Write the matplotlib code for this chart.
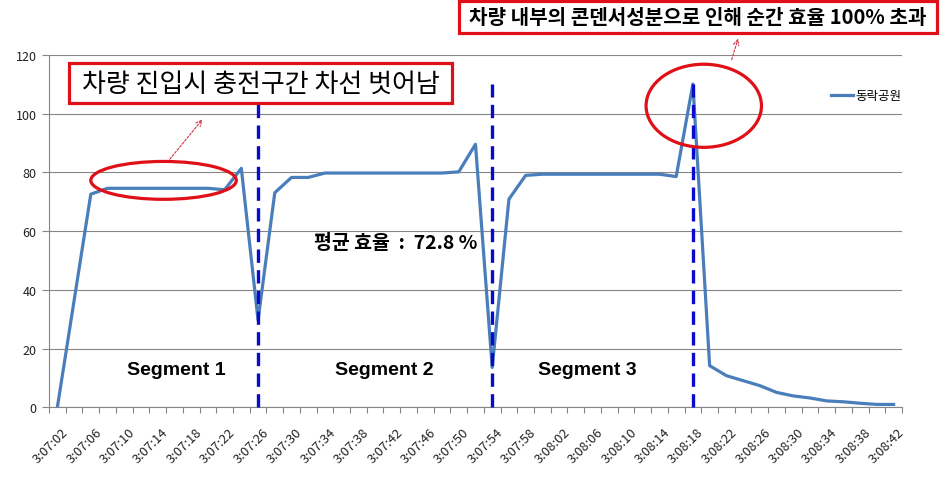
import matplotlib
matplotlib.use('Agg')
import matplotlib.pyplot as plt
import matplotlib.transforms as mtransforms
from matplotlib.patches import Ellipse, Rectangle

plt.rcParams['font.family'] = ['Noto Sans CJK KR', 'DejaVu Sans']

# data (one point every 2 s, 3:07:02 .. 3:08:42)
efficiency = [0, 36.3, 72.6, 74.6, 74.6, 74.6, 74.6, 74.6, 74.6, 74.6,
              74.1, 81.4, 29.7, 73.1, 78.3, 78.3, 79.8, 79.8, 79.8, 79.8,
              79.8, 79.8, 79.8, 79.8, 80.2, 89.6, 13.6, 70.9, 79.0, 79.4,
              79.4, 79.4, 79.4, 79.4, 79.4, 79.4, 79.4, 78.6, 110.1, 14.2,
              10.8, 9.1, 7.4, 5.1, 3.9, 3.2, 2.2, 1.9, 1.4, 1.0, 1.0]
tick_labels = ['3:07:02', '3:07:06', '3:07:10', '3:07:14', '3:07:18', '3:07:22',
               '3:07:26', '3:07:30', '3:07:34', '3:07:38', '3:07:42', '3:07:46',
               '3:07:50', '3:07:54', '3:07:58', '3:08:02', '3:08:06', '3:08:10',
               '3:08:14', '3:08:18', '3:08:22', '3:08:26', '3:08:30', '3:08:34',
               '3:08:38', '3:08:42']
segment_bounds = [12, 26, 38]
segment_names = ['Segment 1', 'Segment 2', 'Segment 3']
segment_centers = [7.1, 19.55, 31.7]
series_name = '동락공원'

x = list(range(len(efficiency)))

fig = plt.figure(figsize=(9.42, 4.81), dpi=100)
ax = fig.add_axes([0.052, 0.151, 0.9055, 0.7326])

ax.plot(x, efficiency, color='#4a7ebb', lw=2.3, label=series_name, zorder=3)

# segment separators
for b in segment_bounds:
    ax.plot([b, b], [0, 110], color='#0a0acc', lw=2.4, dashes=(4, 2.2),
            zorder=4, clip_on=False)

ax.set_xlim(-0.5, len(efficiency) - 0.5)
ax.set_ylim(0, 120)
ax.set_yticks(range(0, 121, 20))
ax.set_xticks([i - 0.5 for i in range(len(efficiency) + 1)])
ax.set_xticklabels([])
ax.set_xticks(range(0, len(efficiency), 2), minor=True)
ax.set_xticklabels(tick_labels, minor=True, rotation=45, ha='right',
                   va='top', rotation_mode='anchor', fontsize=9.3, color='#222222')
ax.tick_params(axis='x', which='minor', length=0, pad=13)
ax.tick_params(axis='x', which='major', length=4, color='#868686', direction='out')
ax.tick_params(axis='y', length=5, color='#868686', labelsize=9,
               labelcolor='#222222', pad=4)
shift = mtransforms.ScaledTranslation(4 / 100, 0, fig.dpi_scale_trans)
for lab in ax.get_xticklabels(minor=True):
    lab.set_transform(lab.get_transform() + shift)
ax.grid(axis='y', color='#868686', lw=0.8)
ax.set_axisbelow(True)
for s in ['top', 'right']:
    ax.spines[s].set_visible(False)
for s in ['left', 'bottom']:
    ax.spines[s].set_color('#868686')
    ax.spines[s].set_linewidth(0.8)

ax.legend(loc='center left', bbox_to_anchor=(825 / 942, 1 - 97 / 481),
          bbox_transform=fig.transFigure, frameon=False, fontsize=9,
          handlelength=1.7, handletextpad=0.2, borderpad=0)

# segment labels and average
for c, name in zip(segment_centers, segment_names):
    ax.text(c, 13, name, ha='center', va='center', fontsize=14,
            fontweight='bold', family='Liberation Sans')
ax.text(20.2, 56.3, '평균 효율  :  72.8 %', ha='center', va='center',
        fontsize=14, fontweight='bold')

# red highlight ellipses
ax.add_patch(Ellipse((6.35, 77.3), 8.7, 12.9, fill=False, ec='#e01018',
                     lw=2.3, zorder=5))
ax.add_patch(Ellipse((38.65, 102.7), 6.9, 28.3, fill=False, ec='#e01018',
                     lw=2.3, zorder=5, clip_on=False))

# dashed arrows to the notes
arrow = dict(arrowstyle='->', color='#d03040', lw=0.8, linestyle=(0, (2, 1.5)))
ax.annotate('', xy=(8.78, 98.8), xytext=(6.62, 83.8), arrowprops=arrow,
            annotation_clip=False)
ax.annotate('', xy=(40.75, 126.5), xytext=(40.27, 117.5), arrowprops=arrow,
            annotation_clip=False)

# note boxes
fig.patches.append(Rectangle((69 / 942, 1 - 104 / 481), 383 / 942, 40 / 481,
                             transform=fig.transFigure, fill=True, fc='white',
                             ec='#e01018', lw=2.3, zorder=6))
fig.text(260.5 / 942, 1 - 84 / 481, '차량 진입시 충전구간 차선 벗어남',
         ha='center', va='center', fontsize=18.7, zorder=7)
fig.patches.append(Rectangle((459 / 942, 1 - 34 / 481), 478 / 942, 32 / 481,
                             transform=fig.transFigure, fill=True, fc='white',
                             ec='#e01018', lw=2.3, zorder=6))
fig.text(698 / 942, 1 - 18 / 481, '차량 내부의 콘덴서성분으로 인해 순간 효율 100% 초과',
         ha='center', va='center', fontsize=14.5, fontweight='bold', zorder=7)

fig.savefig('out.png', dpi=100)
